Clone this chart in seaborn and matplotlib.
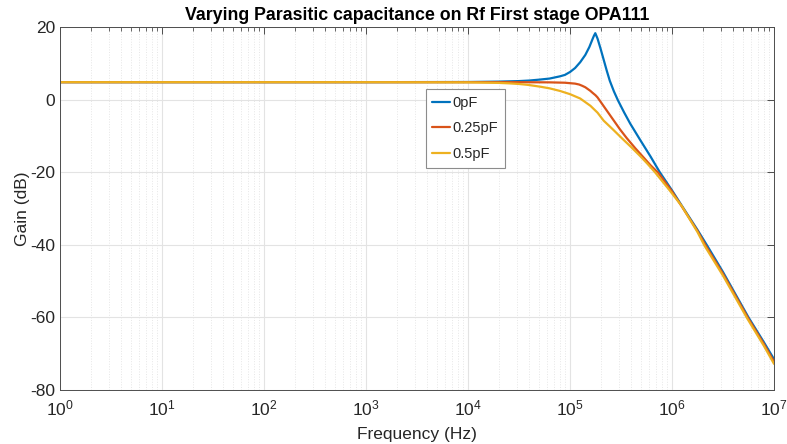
import numpy as np
import pandas as pd
import matplotlib
matplotlib.use("Agg")
import matplotlib.pyplot as plt
import seaborn as sns
from matplotlib.ticker import LogLocator, LogFormatterSciNotation, NullFormatter, FixedLocator

# ---- data (log10 of frequency in Hz, gain in dB) ----
series_names = ["0pF", "0.25pF", "0.5pF"]

logf_0pF = [0, 3, 4, 4.3, 4.5, 4.6, 4.7, 4.8, 4.85, 4.9, 4.95, 5.0, 5.05, 5.1, 5.15, 5.19, 5.22,
            5.235, 5.248, 5.27, 5.3, 5.33, 5.36, 5.39, 5.43, 5.47, 5.53, 5.59, 5.69, 5.79,
            5.88, 6.0, 6.1, 6.25, 6.34, 6.5, 6.75, 6.9, 7.0]
gain_0pF = [4.8, 4.8, 4.85, 4.95, 5.1, 5.25, 5.5, 5.8, 6.1, 6.4, 6.8, 7.6, 8.7, 10.3, 12.3,
            14.5, 16.6, 17.6, 18.3, 16.8, 14.0, 11.0, 8.0, 5.2, 2.3, -0.2, -3.5, -6.6,
            -11.2, -15.7, -20.0, -25.0, -29.4, -35.9, -40.0, -47.5, -60.0, -66.8, -71.5]

logf_025pF = [0, 3, 4, 4.5, 4.8, 4.95, 5.05, 5.09, 5.12, 5.15, 5.17, 5.2, 5.22, 5.25, 5.27,
              5.31, 5.35, 5.39, 5.43, 5.49, 5.556, 5.64, 5.72, 5.79, 5.866, 5.99, 6.1, 6.25,
              6.33, 6.5, 6.75, 6.9, 7.0]
gain_025pF = [4.8, 4.8, 4.8, 4.8, 4.75, 4.65, 4.4, 4.15, 3.8, 3.4, 3.0, 2.4, 1.9, 1.2, 0.6,
              -1.0, -2.6, -4.2, -5.8, -8.2, -10.6, -13.4, -15.9, -18.1, -20.2, -24.9, -29.6,
              -36.2, -40.2, -48.0, -60.4, -67.3, -72.2]

logf_05pF = [0, 3, 4, 4.3, 4.4, 4.5, 4.58, 4.65, 4.72, 4.8, 4.9, 5.0, 5.1, 5.2, 5.27, 5.33,
             5.42, 5.507, 5.6, 5.686, 5.76, 5.833, 5.974, 6.095, 6.25, 6.32, 6.5, 6.74, 6.9,
             7.0]
gain_05pF = [4.8, 4.8, 4.75, 4.6, 4.48, 4.3, 4.08, 3.8, 3.5, 3.1, 2.4, 1.5, 0.3, -1.7, -3.6,
             -5.8, -8.2, -10.6, -13.1, -15.5, -17.7, -20.0, -24.9, -29.3, -36.5, -40.3,
             -48.5, -60.4, -67.8, -72.8]

colors = ["#0072BD", "#D95319", "#EDB120"]
x_ticks = [1e0, 1e1, 1e2, 1e3, 1e4, 1e5, 1e6, 1e7]
y_ticks = [-80, -60, -40, -20, 0, 20]

frames = []
for name, lf, g in [(series_names[0], logf_0pF, gain_0pF),
                    (series_names[1], logf_025pF, gain_025pF),
                    (series_names[2], logf_05pF, gain_05pF)]:
    frames.append(pd.DataFrame({"Frequency": np.power(10.0, lf), "Gain": g, "Series": name}))
df = pd.concat(frames, ignore_index=True)

sns.set_style("white")
plt.rcParams["font.family"] = ["Liberation Sans", "DejaVu Sans"]
plt.rcParams["mathtext.default"] = "regular"
plt.rcParams["axes.unicode_minus"] = False

fig = plt.figure(figsize=(7.87, 4.44), dpi=100)
ax = fig.add_axes([60 / 787, 1 - 390 / 444, 714 / 787, 363 / 444])

sns.lineplot(data=df, x="Frequency", y="Gain", hue="Series", hue_order=series_names,
             palette=colors, estimator=None, sort=True, linewidth=1.6, ax=ax)

ax.set_xscale("log")
ax.set_xlim(1, 1e7)
ax.set_ylim(-80, 20)
ax.xaxis.set_major_locator(FixedLocator(x_ticks))
ax.xaxis.set_major_formatter(LogFormatterSciNotation())
ax.xaxis.set_minor_locator(LogLocator(base=10, subs=np.arange(2, 10), numticks=100))
ax.xaxis.set_minor_formatter(NullFormatter())
ax.yaxis.set_major_locator(FixedLocator(y_ticks))

axis_col = "#4d4d4d"
text_col = "#262626"
ax.grid(True, which="major", color="#e3e3e3", linewidth=0.8, linestyle="-")
ax.grid(True, which="minor", axis="x", color="#e6e6e6", linewidth=0.7, linestyle=":")
ax.set_axisbelow(True)
for s in ax.spines.values():
    s.set_color(axis_col)
    s.set_linewidth(0.7)
ax.tick_params(which="both", direction="in", top=True, right=True, color=axis_col,
               labelcolor=text_col, labelsize=12.5)
ax.tick_params(which="major", length=5, width=0.7)
ax.tick_params(which="minor", length=3, width=0.6)
ax.tick_params(axis="x", pad=6)

ax.set_xlabel("Frequency (Hz)", fontsize=12.5, color=text_col, labelpad=6)
ax.set_ylabel("Gain (dB)", fontsize=12.5, color=text_col, labelpad=0)
ax.set_title("Varying Parasitic capacitance on Rf First stage OPA111", fontsize=12.8,
             fontweight="bold", color="black", pad=5)

leg = ax.legend(loc="upper left", bbox_to_anchor=(0.512, 0.829), fontsize=10.5,
                frameon=True, fancybox=False, framealpha=1, edgecolor="#8c8c8c",
                handlelength=1.25, handletextpad=0.15, labelspacing=0.8,
                borderpad=0.45, borderaxespad=0)
leg.get_frame().set_linewidth(0.8)
for t in leg.get_texts():
    t.set_color(text_col)

fig.savefig("out.png", dpi=100, facecolor="white")
